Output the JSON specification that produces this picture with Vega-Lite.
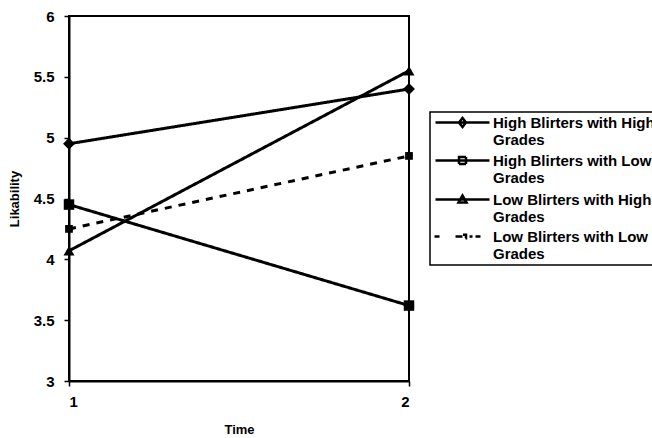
{
  "$schema": "https://vega.github.io/schema/vega-lite/v6.json",
  "width": 340,
  "height": 365,
  "autosize": "none",
  "padding": {"left": 69, "top": 16, "right": 243, "bottom": 57},
  "background": "white",
  "config": {
    "font": "Liberation Sans",
    "view": {"stroke": "black", "strokeWidth": 2},
    "legend": {"strokeColor": "black", "strokeWidth": 1.5},
    "axis": {
      "domainColor": "black", "domainWidth": 2, "tickColor": "black", "tickWidth": 1.5, "tickSize": 5,
      "labelFont": "Liberation Sans", "labelFontWeight": "bold", "labelFontSize": 15, "labelColor": "black",
      "titleFont": "Liberation Sans", "titleFontWeight": "bold", "titleFontSize": 13, "titleColor": "black",
      "grid": false
    }
  },
  "data": {"values": [
    {"time": 1, "series": "High Blirters with High Grades", "value": 4.95},
    {"time": 2, "series": "High Blirters with High Grades", "value": 5.4},
    {"time": 1, "series": "High Blirters with Low Grades", "value": 4.45},
    {"time": 2, "series": "High Blirters with Low Grades", "value": 3.62},
    {"time": 1, "series": "Low Blirters with High Grades", "value": 4.07},
    {"time": 2, "series": "Low Blirters with High Grades", "value": 5.55},
    {"time": 1, "series": "Low Blirters with Low Grades", "value": 4.25},
    {"time": 2, "series": "Low Blirters with Low Grades", "value": 4.85}
  ]},
  "encoding": {
    "x": {"field": "time", "type": "quantitative", "scale": {"domain": [1, 2], "nice": false, "zero": false},
      "axis": {"values": [1, 2], "format": "d", "title": "Time", "labelPadding": 8, "titlePadding": 14}},
    "y": {"field": "value", "type": "quantitative", "scale": {"domain": [3, 6], "nice": false, "zero": false},
      "axis": {"values": [3, 3.5, 4, 4.5, 5, 5.5, 6], "format": "~g", "title": "Likability", "labelPadding": 10, "titlePadding": 12}}
  },
  "layer": [
    {
      "mark": {"type": "point", "filled": false, "color": "black", "size": 1, "strokeWidth": 1},
      "encoding": {
        "shape": {"field": "series", "type": "nominal",
          "scale": {"domain": ["High Blirters with High Grades", "High Blirters with Low Grades", "Low Blirters with High Grades", "Low Blirters with Low Grades"],
            "range": [
              "M-5.4,0H5.4M0,-0.9L0.7,0L0,0.9L-0.7,0Z",
              "M-5.4,0H5.4M-0.7,-0.7H0.7V0.7H-0.7Z",
              "M-5.4,0H5.4M0,-0.8L0.8,0.6H-0.8Z",
              "M-5.6,0H-4.6M-1.4,0H2M2.6,0H3.6M0.1,-0.35H0.7V0.35H0.1Z"
            ]},
          "legend": {
            "title": null, "orient": "none", "legendX": 361, "legendY": 96,
            "padding": 3,
            "symbolSize": 100, "symbolOpacity": 1, "symbolFillColor": "black", "symbolStrokeColor": "black", "symbolStrokeWidth": 2.5,
            "symbolOffset": 22, "labelOffset": 23,
            "labelFont": "Liberation Sans", "labelFontWeight": "bold", "labelFontSize": 15, "labelColor": "black", "labelLimit": 400,
            "labelExpr": "[replace(datum.label, ' Grades', ''), 'Grades']",
            "rowPadding": 4
          }
        }
      }
    },
    {
      "mark": {"type": "line", "color": "black", "strokeWidth": 3},
      "encoding": {
        "detail": {"field": "series"},
        "strokeDash": {"field": "series", "type": "nominal", "legend": null,
          "scale": {"domain": ["High Blirters with High Grades", "High Blirters with Low Grades", "Low Blirters with High Grades", "Low Blirters with Low Grades"],
            "range": [[1, 0], [1, 0], [1, 0], [7, 7]]}}
      }
    },
    {
      "transform": [{"filter": "datum.series == 'High Blirters with High Grades'"}],
      "mark": {"type": "point", "filled": true, "color": "black", "opacity": 1, "shape": "diamond", "size": 140}
    },
    {
      "transform": [{"filter": "datum.series == 'High Blirters with Low Grades'"}],
      "mark": {"type": "point", "filled": true, "color": "black", "opacity": 1, "shape": "square", "size": 110}
    },
    {
      "transform": [{"filter": "datum.series == 'Low Blirters with High Grades'"}],
      "mark": {"type": "point", "filled": true, "color": "black", "opacity": 1, "shape": "triangle-up", "size": 120}
    },
    {
      "transform": [{"filter": "datum.series == 'Low Blirters with Low Grades'"}],
      "mark": {"type": "point", "filled": true, "color": "black", "opacity": 1, "shape": "square", "size": 60}
    }
  ]
}
